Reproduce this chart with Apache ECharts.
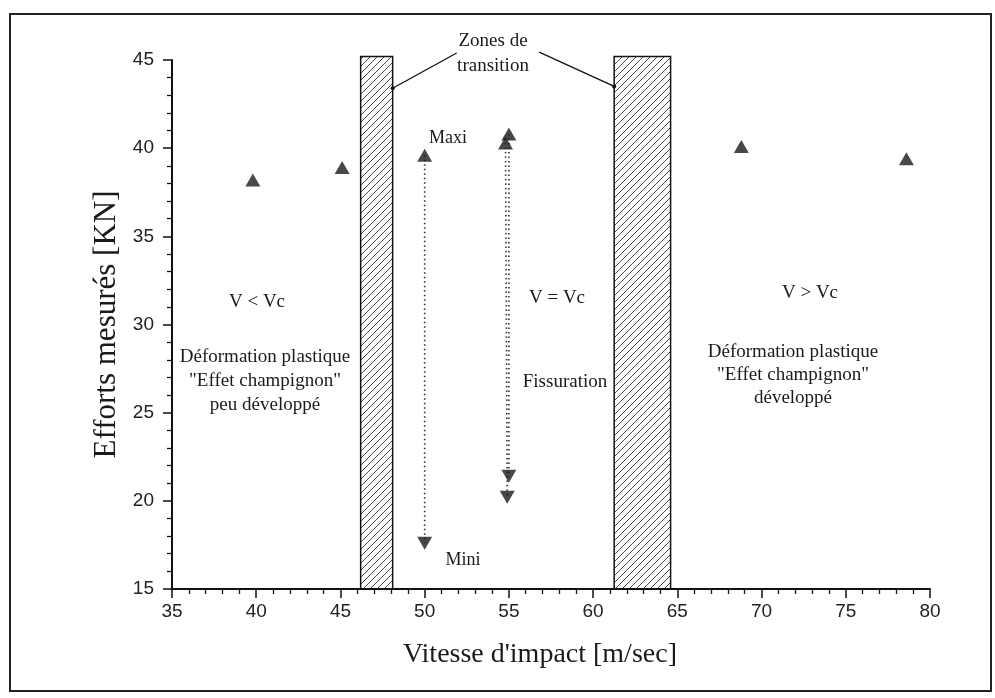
<!DOCTYPE html>
<html><head><meta charset="utf-8">
<script src="https://cdn.jsdelivr.net/npm/echarts@6/dist/echarts.min.js"></script>
<style>html,body{margin:0;padding:0;background:#fff}#c{width:995px;height:698px}</style>
</head><body><div id="c"></div>
<script>
// Maxima (upward triangles)
const maxX = [39.8, 45.1, 50.0, 55.0, 54.8, 68.8, 78.6];
const maxY = [38.2, 38.9, 39.6, 40.8, 40.3, 40.1, 39.4];
// Minima (downward triangles)
const minX = [50.0, 55.0, 54.9];
const minY = [17.6, 21.4, 20.2];
// Dotted ranges: index into maxima -> index into minima
const rangeFromMax = [2, 3, 4];
const rangeToMin = [0, 1, 2];
// Transition zones (hatched)
const zoneStart = [46.2, 61.25];
const zoneEnd = [48.1, 64.6];
const zoneBottom = 15, zoneTop = 45.2;
// Leader lines of "Zones de transition"
const leaderFrom = [[51.9, 45.4], [56.8, 45.45]];
const leaderTo = [[48.1, 43.4], [61.25, 43.5]];
// Axes
const xMin = 35, xMax = 80, xStep = 5;
const yMin = 15, yMax = 45, yStep = 5;

const SERIF = '"Liberation Serif", "Times New Roman", serif';
const SANS = '"Liberation Sans", Arial, sans-serif';

function hatchCanvas() {
  const n = 7;
  const c = document.createElement('canvas');
  c.width = n; c.height = n;
  const g = c.getContext('2d');
  g.strokeStyle = '#333'; g.lineWidth = 0.9;
  g.beginPath();
  g.moveTo(-1, n + 1); g.lineTo(n + 1, -1);
  g.moveTo(-1, 1); g.lineTo(1, -1);
  g.moveTo(n - 1, n + 1); g.lineTo(n + 1, n - 1);
  g.stroke();
  return c;
}
const pat = hatchCanvas();

const chart = echarts.init(document.getElementById('c'), null, {renderer: 'canvas'});

const series = [];
series.push({
  type: 'custom',
  clip: false,
  z: 1,
  silent: true,
  data: zoneStart.map((s, i) => [s, zoneEnd[i], zoneBottom, zoneTop]),
  encode: {x: [0, 1], y: [2, 3]},
  renderItem: function (params, api) {
    const p0 = api.coord([api.value(0), api.value(2)]);
    const p1 = api.coord([api.value(1), api.value(3)]);
    return {
      type: 'rect',
      shape: {x: p0[0], y: p1[1], width: p1[0] - p0[0], height: p0[1] - p1[1]},
      style: {fill: {image: pat, repeat: 'repeat'}, stroke: '#111', lineWidth: 1.5}
    };
  }
});
rangeFromMax.forEach((mi, k) => {
  const ni = rangeToMin[k];
  series.push({
    type: 'line', z: 2, silent: true, symbol: 'none',
    data: [[maxX[mi], maxY[mi]], [minX[ni], minY[ni]]],
    lineStyle: {color: '#333', width: 1.6, type: [1.5, 3]}
  });
});
leaderFrom.forEach((f, i) => {
  series.push({
    type: 'line', z: 4, silent: true, clip: false,
    data: [f, leaderTo[i]],
    symbol: 'circle', showSymbol: true,
    symbolSize: (v, p) => p.dataIndex === 1 ? 4 : 0,
    itemStyle: {color: '#111'},
    lineStyle: {color: '#111', width: 1.3}
  });
});
series.push({
  type: 'scatter', z: 5, symbol: 'triangle', symbolSize: [15, 13],
  itemStyle: {color: '#1a1a1a'},
  data: maxX.map((x, i) => [x, maxY[i]])
});
series.push({
  type: 'scatter', z: 5, symbol: 'triangle', symbolRotate: 180, symbolSize: [15, 13],
  itemStyle: {color: '#1a1a1a'},
  data: minX.map((x, i) => [x, minY[i]])
});

function txt(text, x, y, size, lh) {
  return {type: 'text', x: x, y: y, z: 10, silent: true,
    style: {text: text, font: size + 'px ' + SERIF, fill: '#1a1a1a', align: 'center',
      verticalAlign: 'middle', lineHeight: lh || size + 5}};
}

chart.setOption({
  animation: false,
  backgroundColor: '#fff',
  grid: {left: 172, right: 65, top: 60, bottom: 109, containLabel: false},
  xAxis: {
    type: 'value', min: xMin, max: xMax, interval: xStep,
    name: "Vitesse d'impact [m/sec]", nameLocation: 'middle', nameGap: 52,
    nameTextStyle: {fontFamily: SERIF, fontSize: 28, color: '#1a1a1a', padding: [0, 22, 0, 0]},
    axisLine: {onZero: false, lineStyle: {color: '#111', width: 2}},
    axisTick: {length: 9, lineStyle: {color: '#111', width: 1.5}},
    minorTick: {show: true, splitNumber: 5, length: 5, lineStyle: {color: '#111', width: 1.3}},
    splitLine: {show: false},
    axisLabel: {margin: 13, fontFamily: SANS, fontSize: 19, color: '#222'}
  },
  yAxis: {
    type: 'value', min: yMin, max: yMax, interval: yStep,
    name: 'Efforts mesurés [KN]', nameLocation: 'middle', nameGap: 46, nameRotate: 90,
    nameTextStyle: {fontFamily: SERIF, fontSize: 31, color: '#1a1a1a'},
    axisLine: {show: true, onZero: false, lineStyle: {color: '#111', width: 2}},
    axisTick: {show: true, length: 9, lineStyle: {color: '#111', width: 1.5}},
    minorTick: {show: true, splitNumber: 5, length: 5, lineStyle: {color: '#111', width: 1.3}},
    splitLine: {show: false},
    axisLabel: {margin: 18, fontFamily: SANS, fontSize: 19, color: '#222'}
  },
  graphic: [
    {type: 'rect', z: 0, silent: true, shape: {x: 10, y: 14, width: 981, height: 677},
      style: {fill: 'none', stroke: '#222', lineWidth: 2}},
    txt('Zones de\ntransition', 493, 54, 19, 25),
    txt('Maxi', 448, 138, 18),
    txt('Mini', 463, 560, 18),
    txt('V < Vc', 257, 302, 19),
    txt('Déformation plastique\n"Effet champignon"\npeu développé', 265, 381, 19, 24),
    txt('V = Vc', 557, 298, 19),
    txt('Fissuration', 565, 382, 19),
    txt('V > Vc', 810, 293, 19),
    txt('Déformation plastique\n"Effet champignon"\ndéveloppé', 793, 375, 19, 23)
  ],
  series: series
});
</script>
</body></html>
